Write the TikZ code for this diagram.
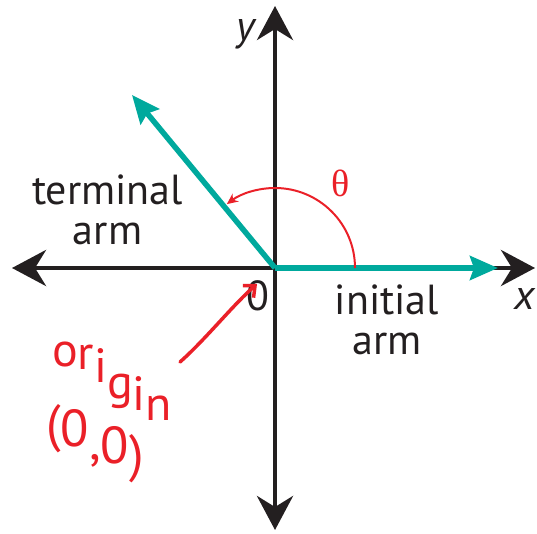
\documentclass[tikz,border=0pt]{standalone}
\usepackage{fontspec}
\setmainfont{PT Sans}
\newfontfamily\thetafont{Liberation Serif}
\newfontfamily\handfont[LetterSpace=8]{PT Sans}
\usetikzlibrary{arrows.meta}
\definecolor{teal1}{RGB}{0,169,157}
\definecolor{red1}{RGB}{234,32,40}
\definecolor{ink}{RGB}{35,31,32}
\newcommand{\dropchar}[2]{\raisebox{-#1pt}{#2}}
\begin{document}
\begin{tikzpicture}[x=1pt,y=1pt,
  axis/.style={ink, line width=4.5pt,
    {Stealth[length=34pt,width=36pt,inset=11pt]}-{Stealth[length=34pt,width=36pt,inset=11pt]}},
  armline/.style={teal1, line width=5.5pt, -{Stealth[length=28pt,width=24pt,inset=4pt]}},
  lbl/.style={inner sep=0pt, font=\fontsize{42}{40}\selectfont, text=ink, align=center},
  hand/.style={inner sep=0pt, font=\handfont\fontsize{48}{55}\selectfont, text=red1, anchor=base west}]
\useasboundingbox (0,0) rectangle (537,-534);
% key points
\coordinate (O) at (275,-268);
\coordinate (xr) at (535,-268);
\coordinate (xl) at (12,-268);
\coordinate (yt) at (275,-6);
\coordinate (yb) at (275,-530);
\coordinate (ia) at (498,-268);
\coordinate (ta) at (132,-95);
\coordinate (as) at (355,-268);
\coordinate (hs) at (180,-362);
\coordinate (he) at (257,-284);
% axes
\draw[axis] (xl) -- (xr);
\draw[axis] (yb) -- (yt);
% arms
\draw[armline] (O) -- (ia);
\draw[armline] (O) -- (ta);
% angle
\draw[red1, line width=2pt, -{Stealth[length=11pt,width=10pt]}] (as) arc[start angle=0, end angle=127, radius=80];
% labels
\node[lbl, font=\fontsize{42}{40}\selectfont\itshape, anchor=base] (ylab) at (246,-41) {y};
\node[lbl, font=\fontsize{42}{40}\selectfont\itshape, anchor=base] (xlab) at (525,-309) {x};
\node[lbl, anchor=base] (zero) at (258,-310) {0};
\node[lbl, anchor=north] (term) at (107.5,-175) {terminal\\arm};
\node[lbl, anchor=north] (init) at (387,-285) {initial\\arm};
\node[inner sep=0pt, text=red1, font=\thetafont\fontsize{38}{38}\selectfont, anchor=base] (theta) at (341,-197) {θ};
% handwritten note
\node[hand] (orig) at (52,-366) {o\dropchar{3}{r}\dropchar{16}{i}\dropchar{32}{g}\dropchar{44}{i}\dropchar{54}{n}};
\node[hand, font=\handfont\fontsize{52}{55}\selectfont] (coord) at (46,-441) {(\dropchar{5}{0}\dropchar{18}{,}\dropchar{22}{0}\dropchar{30}{)}};
\draw[red1, line width=3.5pt, line cap=round, -{Straight Barb[length=9pt,width=16pt]}] (hs) .. controls (205,-340) and (232,-306) .. (he);
\end{tikzpicture}
\end{document}
